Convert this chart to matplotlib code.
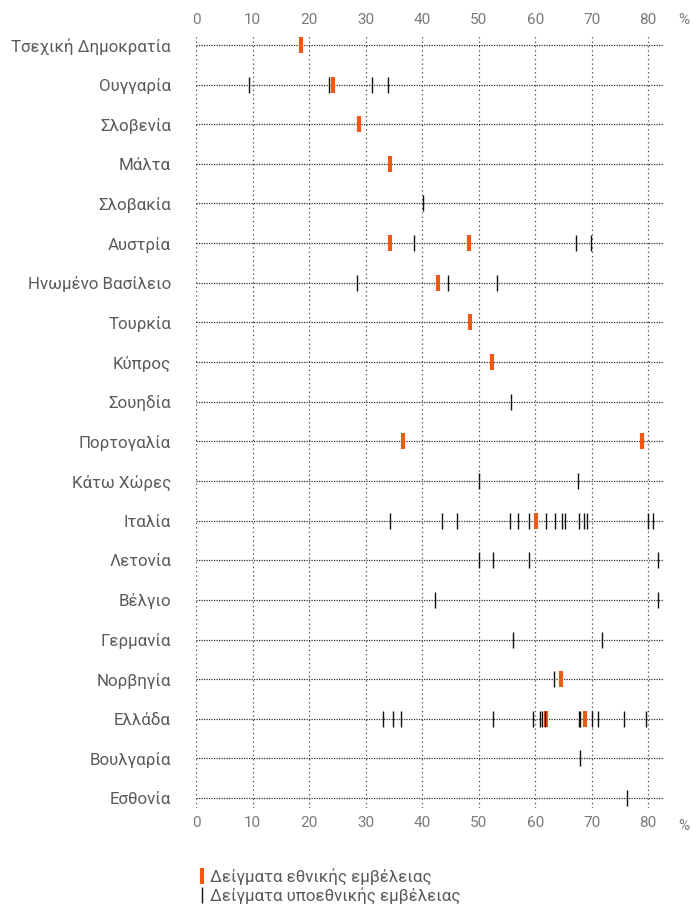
import numpy as np
import matplotlib.pyplot as plt
from matplotlib.lines import Line2D

plt.rcParams['font.family'] = ['Roboto', 'DejaVu Sans']

countries = ['Τσεχική Δημοκρατία', 'Ουγγαρία', 'Σλοβενία', 'Μάλτα', 'Σλοβακία',
             'Αυστρία', 'Ηνωμένο Βασίλειο', 'Τουρκία', 'Κύπρος', 'Σουηδία',
             'Πορτογαλία', 'Κάτω Χώρες', 'Ιταλία', 'Λετονία', 'Βέλγιο',
             'Γερμανία', 'Νορβηγία', 'Ελλάδα', 'Βουλγαρία', 'Εσθονία']

# national samples (orange)
national = [[18.5], [24.3], [28.8], [34.4], [],
            [34.3, 48.3], [42.9], [48.5], [52.4], [],
            [36.6, 78.9], [], [60.1], [], [],
            [], [64.5], [62.0, 68.8], [], []]

# subnational samples (black)
subnational = [[], [9.4, 23.6, 31.1, 34.0], [], [], [40.2],
               [38.5, 67.3, 69.8], [28.5, 44.5, 53.2], [], [], [55.8],
               [], [50.0, 67.6],
               [34.4, 43.5, 46.2, 55.6, 56.9, 59.0, 62.0, 63.6, 64.7, 65.2,
                67.7, 68.7, 69.2, 80.0, 80.8],
               [50.0, 52.5, 59.0, 81.8], [42.2, 81.8],
               [56.1, 71.8], [63.4],
               [33.1, 34.8, 36.3, 52.6, 59.7, 60.8, 61.3, 61.8, 67.7, 67.9,
                70.1, 71.2, 75.8, 79.6],
               [68.0], [76.3]]

xticks = [0, 10, 20, 30, 40, 50, 60, 70, 80]

orange = '#EE5A14'
grey = '#7a7a7a'
label_col = '#5a5a5a'

fig = plt.figure(figsize=(6.93, 9.06), dpi=100)
ax = fig.add_axes([196 / 693, 1 - 808 / 906, (664 - 196) / 693, (808 - 35) / 906])

xmax = 82.8
n = len(countries)
ypos = np.arange(n)

for y in ypos:
    ax.plot([0, xmax], [y, y], color='#333333', lw=0.9, ls=(0, (1, 1)), zorder=1)
for x in xticks:
    ax.axvline(x, color='#444444', lw=0.9, ls=(0, (1, 2.5)), zorder=0)

for i in range(n):
    if national[i]:
        ax.plot(national[i], [i] * len(national[i]), ls='none', marker='|',
                ms=11.5, mew=3.0, color=orange, zorder=3)
    if subnational[i]:
        ax.plot(subnational[i], [i] * len(subnational[i]), ls='none', marker='|',
                ms=11.5, mew=1.0, color='#111111', zorder=4)

ax.set_xlim(0, xmax)
ax.set_ylim(n - 0.75, -0.25)
ax.set_yticks(ypos)
ax.set_yticklabels(countries, fontsize=12.2, color=label_col)
ax.set_xticks(xticks)
ax.tick_params(axis='x', top=True, labeltop=True, bottom=True, labelbottom=True,
               length=0, labelsize=11, labelcolor=grey, pad=6)
ax.tick_params(axis='y', length=0, pad=18)
for s in ax.spines.values():
    s.set_visible(False)

fig.text(684 / 693, 1 - 20 / 906, '%', fontsize=11, color=grey, ha='center', va='center')
fig.text(684 / 693, 1 - 826 / 906, '%', fontsize=11, color=grey, ha='center', va='center')

handles = [Line2D([], [], ls='none', marker='|', ms=11, mew=3.0, color=orange),
           Line2D([], [], ls='none', marker='|', ms=11, mew=1.0, color='#111111')]
fig.legend(handles, ['Δείγματα εθνικής εμβέλειας', 'Δείγματα υποεθνικής εμβέλειας'],
           loc='upper left', bbox_to_anchor=(190 / 693, 1 - 860 / 906), frameon=False,
           handlelength=0.4, handletextpad=0.3, labelspacing=0.1, borderpad=0,
           prop={'size': 12.2}, labelcolor=label_col)

fig.savefig('out.png', dpi=100)
